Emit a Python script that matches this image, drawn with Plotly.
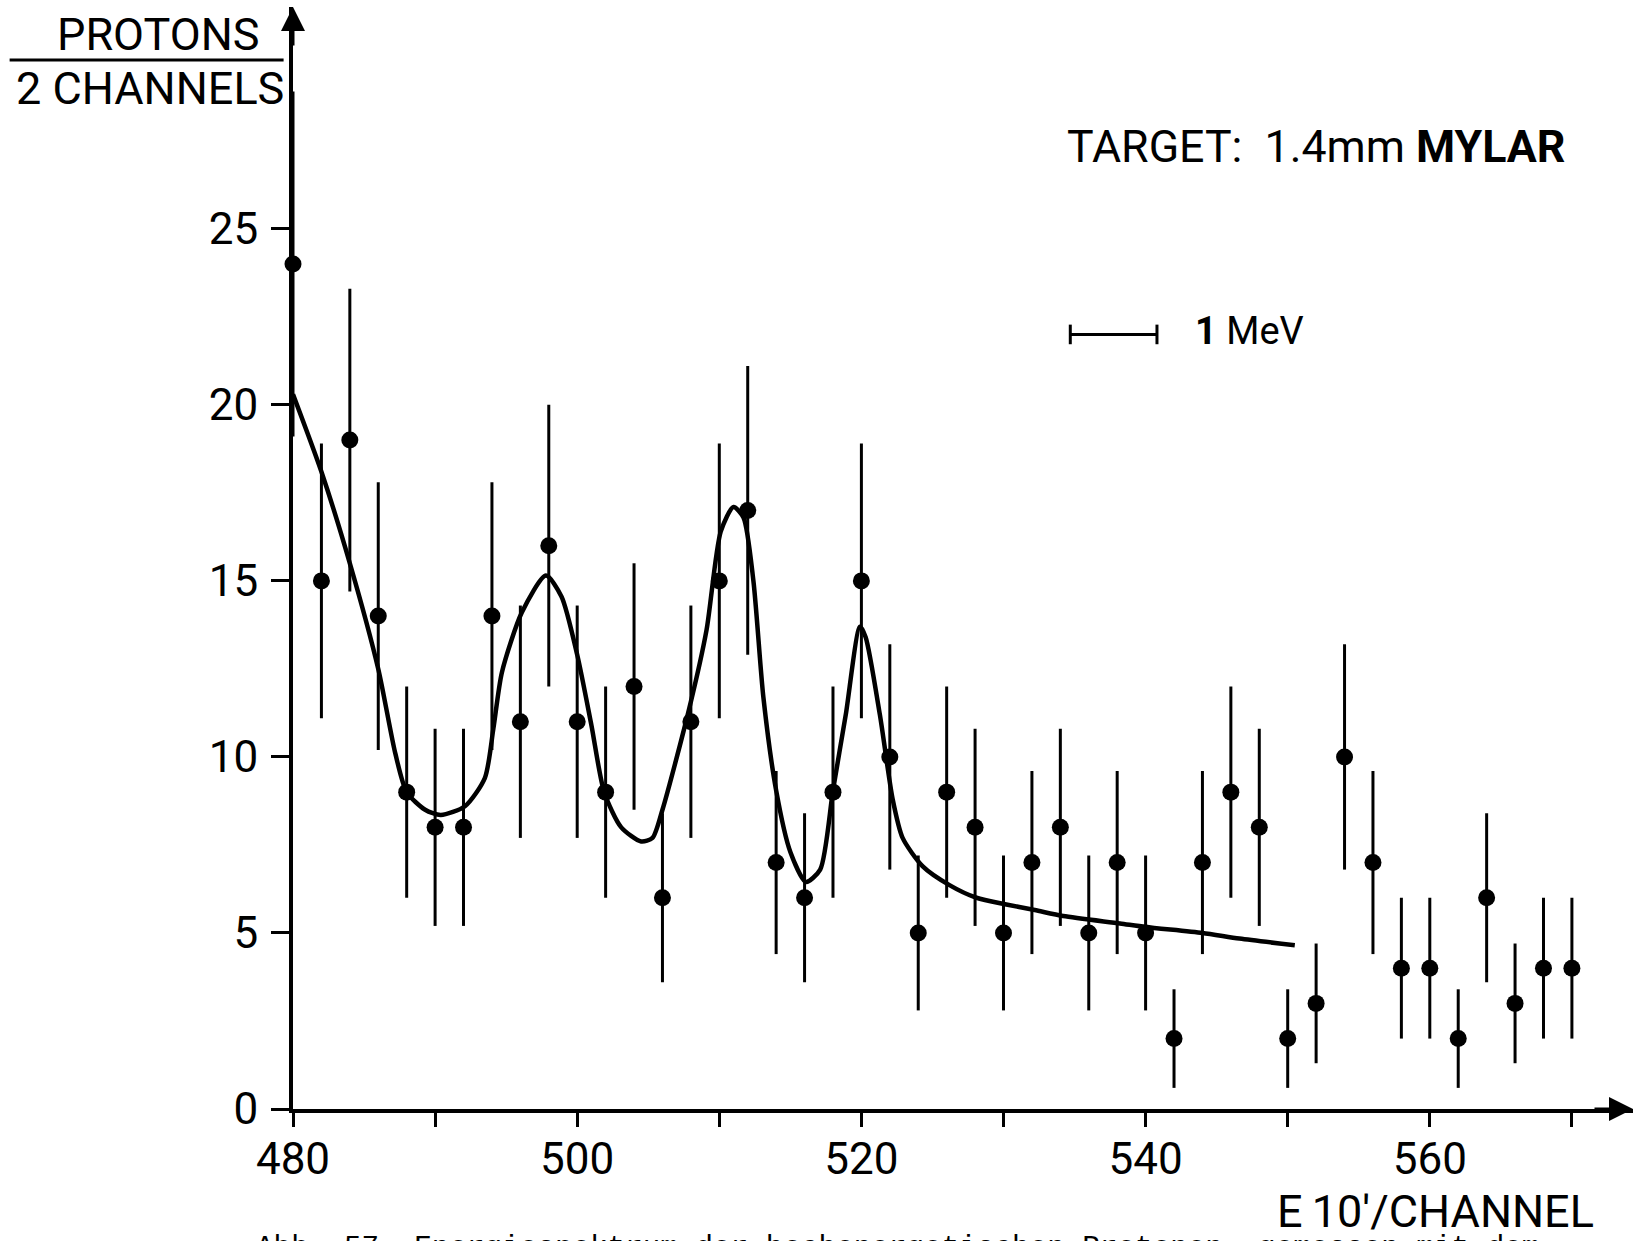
import plotly.graph_objects as go

# ---- measured proton spectrum (counts per 2 channels) ----
channels = [480, 482, 484, 486, 488, 490, 492, 494, 496, 498,
            500, 502, 504, 506, 508, 510, 512, 514, 516, 518,
            520, 522, 524, 526, 528, 530, 532, 534, 536, 538,
            540, 542, 544, 546, 548, 550, 552, 554, 556, 558,
            560, 562, 564, 566, 568, 570]
counts = [24, 15, 19, 14, 9, 8, 8, 14, 11, 16,
          11, 9, 12, 6, 11, 15, 17, 7, 6, 9,
          15, 10, 5, 9, 8, 5, 7, 8, 5, 7,
          5, 2, 7, 9, 8, 2, 3, 10, 7, 4,
          4, 2, 6, 3, 4, 4]
count_errors = [4.9, 3.9, 4.3, 3.8, 3.0, 2.8, 2.8, 3.8, 3.3, 4.0,
                3.3, 3.0, 3.5, 2.4, 3.3, 3.9, 4.1, 2.6, 2.4, 3.0,
                3.9, 3.2, 2.2, 3.0, 2.8, 2.2, 2.6, 2.8, 2.2, 2.6,
                2.2, 1.4, 2.6, 3.0, 2.8, 1.4, 1.7, 3.2, 2.6, 2.0,
                2.0, 1.4, 2.4, 1.7, 2.0, 2.0]

# ---- fitted curve ----
fit_x = [480.0, 482.0, 484.0, 486.0, 487.2, 488.0, 489.3, 490.4, 492.1, 493.5,
         494.1, 494.7, 496.1, 497.8, 498.9, 500.0, 501.0, 501.9, 503.1, 504.5,
         505.3, 506.0, 507.9, 509.1, 510.1, 511.0, 511.7, 512.4, 513.1, 514.0,
         515.0, 516.1, 517.1, 518.0, 518.9, 519.9, 520.3, 521.3, 522.2, 522.9,
         524.3, 526.2, 528.1, 530.2, 532.2, 534.2, 538.2, 540.0, 544.0, 546.6,
         550.5]
fit_y = [20.3, 18.1, 15.5, 12.5, 10.1, 9.0, 8.5, 8.35, 8.6, 9.4,
         10.8, 12.4, 14.1, 15.15, 14.55, 12.9, 10.9, 9.0, 8.0, 7.6,
         7.7, 8.5, 11.4, 13.6, 16.4, 17.1, 16.8, 15.0, 11.7, 9.05,
         7.3, 6.45, 6.8, 9.05, 11.2, 13.7, 13.4, 11.2, 8.8, 7.7,
         6.9, 6.36, 6.0, 5.81, 5.65, 5.48, 5.27, 5.17, 5.0, 4.84,
         4.65]

# ---- 1 MeV scale bar ----
scale_bar_x = [534.7, 540.8]
scale_bar_y = [22.0, 22.0]

# ---- axes ----
x_tick_vals = [480, 490, 500, 510, 520, 530, 540, 550, 560, 570]
x_tick_text = ["480", "", "500", "", "520", "", "540", "", "560", ""]
y_tick_vals = [0, 5, 10, 15, 20, 25]
x_range = [480, 574.3]
y_range = [0, 31.3]

# ---- page geometry (pixels) ----
W, H = 1637, 1241
L, RE = 293.4, 1633.5      # left / right edge of the plotting area
T, BE = 7.0, 1108.7        # top / bottom edge of the plotting area


def px_x(p):
    return (p - L) / (RE - L)


def px_y(p):
    return (BE - p) / (BE - T)


SANS = "Roboto, DejaVu Sans, sans-serif"
BLACK = "#000000"

fig = go.Figure()

fig.add_trace(go.Scatter(
    x=fit_x, y=fit_y, mode="lines",
    line=dict(color=BLACK, width=4.5, shape="spline", smoothing=0.7),
    cliponaxis=False, hoverinfo="skip", showlegend=False))

fig.add_trace(go.Scatter(
    x=channels, y=counts, mode="markers",
    marker=dict(color=BLACK, size=17, symbol="circle"),
    error_y=dict(type="data", array=count_errors, visible=True,
                 color=BLACK, thickness=3, width=0),
    cliponaxis=False, showlegend=False))

fig.add_trace(go.Scatter(
    x=scale_bar_x, y=scale_bar_y, mode="lines+markers",
    line=dict(color=BLACK, width=3),
    marker=dict(symbol="line-ns", size=14, color=BLACK,
                line=dict(color=BLACK, width=3)),
    hoverinfo="skip", showlegend=False))

annotations = [
    # axis arrowheads
    dict(x=x_range[1], y=0, xref="x", yref="y", ax=-40, ay=0, text="",
         showarrow=True, arrowhead=2, arrowsize=1.6, arrowwidth=3,
         arrowcolor=BLACK),
    dict(x=480, y=y_range[1], xref="x", yref="y", ax=0, ay=40, text="",
         showarrow=True, arrowhead=2, arrowsize=1.6, arrowwidth=3,
         arrowcolor=BLACK),
    # y-axis title as a fraction
    dict(x=px_x(159), y=px_y(34), xref="paper", yref="paper",
         text="PROTONS", showarrow=False, xanchor="center", yanchor="middle",
         font=dict(family=SANS, size=45, color=BLACK)),
    dict(x=px_x(150), y=px_y(88), xref="paper", yref="paper",
         text="2 CHANNELS", showarrow=False, xanchor="center", yanchor="middle",
         font=dict(family=SANS, size=45, color=BLACK)),
    # x-axis title
    dict(x=px_x(1596), y=px_y(1211), xref="paper", yref="paper",
         text="E\u200910'/CHANNEL", showarrow=False, xanchor="right",
         yanchor="middle", font=dict(family=SANS, size=45, color=BLACK)),
    # target label
    dict(x=px_x(1065), y=px_y(147), xref="paper", yref="paper",
         text="TARGET:&nbsp; 1.4mm <b>MYLAR</b>", showarrow=False,
         xanchor="left", yanchor="middle",
         font=dict(family=SANS, size=44.7, color=BLACK)),
    # scale bar label
    dict(x=px_x(1193), y=px_y(331), xref="paper", yref="paper",
         text="<b>1</b> MeV", showarrow=False, xanchor="left",
         yanchor="middle", font=dict(family=SANS, size=38, color=BLACK)),
    # figure caption
    dict(x=px_x(254), y=px_y(1230), xref="paper", yref="paper",
         text="Abb. 57. Energiespektrum der hochenergetischen Protonen, gemessen mit dem",
         showarrow=False, xanchor="left", yanchor="top",
         font=dict(family="Liberation Mono, DejaVu Sans Mono, monospace",
                   size=29.3, color=BLACK)),
]

shapes = [
    # fraction bar of the y-axis title
    dict(type="line", xref="paper", yref="paper",
         x0=px_x(10), x1=px_x(284), y0=px_y(60), y1=px_y(60),
         line=dict(color=BLACK, width=3)),
]

fig.update_layout(
    width=W, height=H,
    margin=dict(l=L, r=W - RE, t=T, b=H - BE, pad=0),
    paper_bgcolor="white", plot_bgcolor="white",
    showlegend=False,
    annotations=annotations,
    shapes=shapes,
    xaxis=dict(range=x_range, tickmode="array", tickvals=x_tick_vals,
               ticktext=x_tick_text, ticks="outside", ticklen=14,
               tickwidth=3, tickcolor=BLACK, showline=True, linewidth=4,
               linecolor=BLACK, showgrid=False, zeroline=False,
               ticklabelstandoff=-6,
               tickfont=dict(family=SANS, size=44, color=BLACK)),
    yaxis=dict(range=y_range, tickmode="array", tickvals=y_tick_vals,
               ticks="outside", ticklen=18, tickwidth=3, tickcolor=BLACK,
               showline=True, linewidth=4, linecolor=BLACK, showgrid=False,
               zeroline=False, ticklabelstandoff=4,
               tickfont=dict(family=SANS, size=44, color=BLACK)),
)

fig.write_html("out.html")
